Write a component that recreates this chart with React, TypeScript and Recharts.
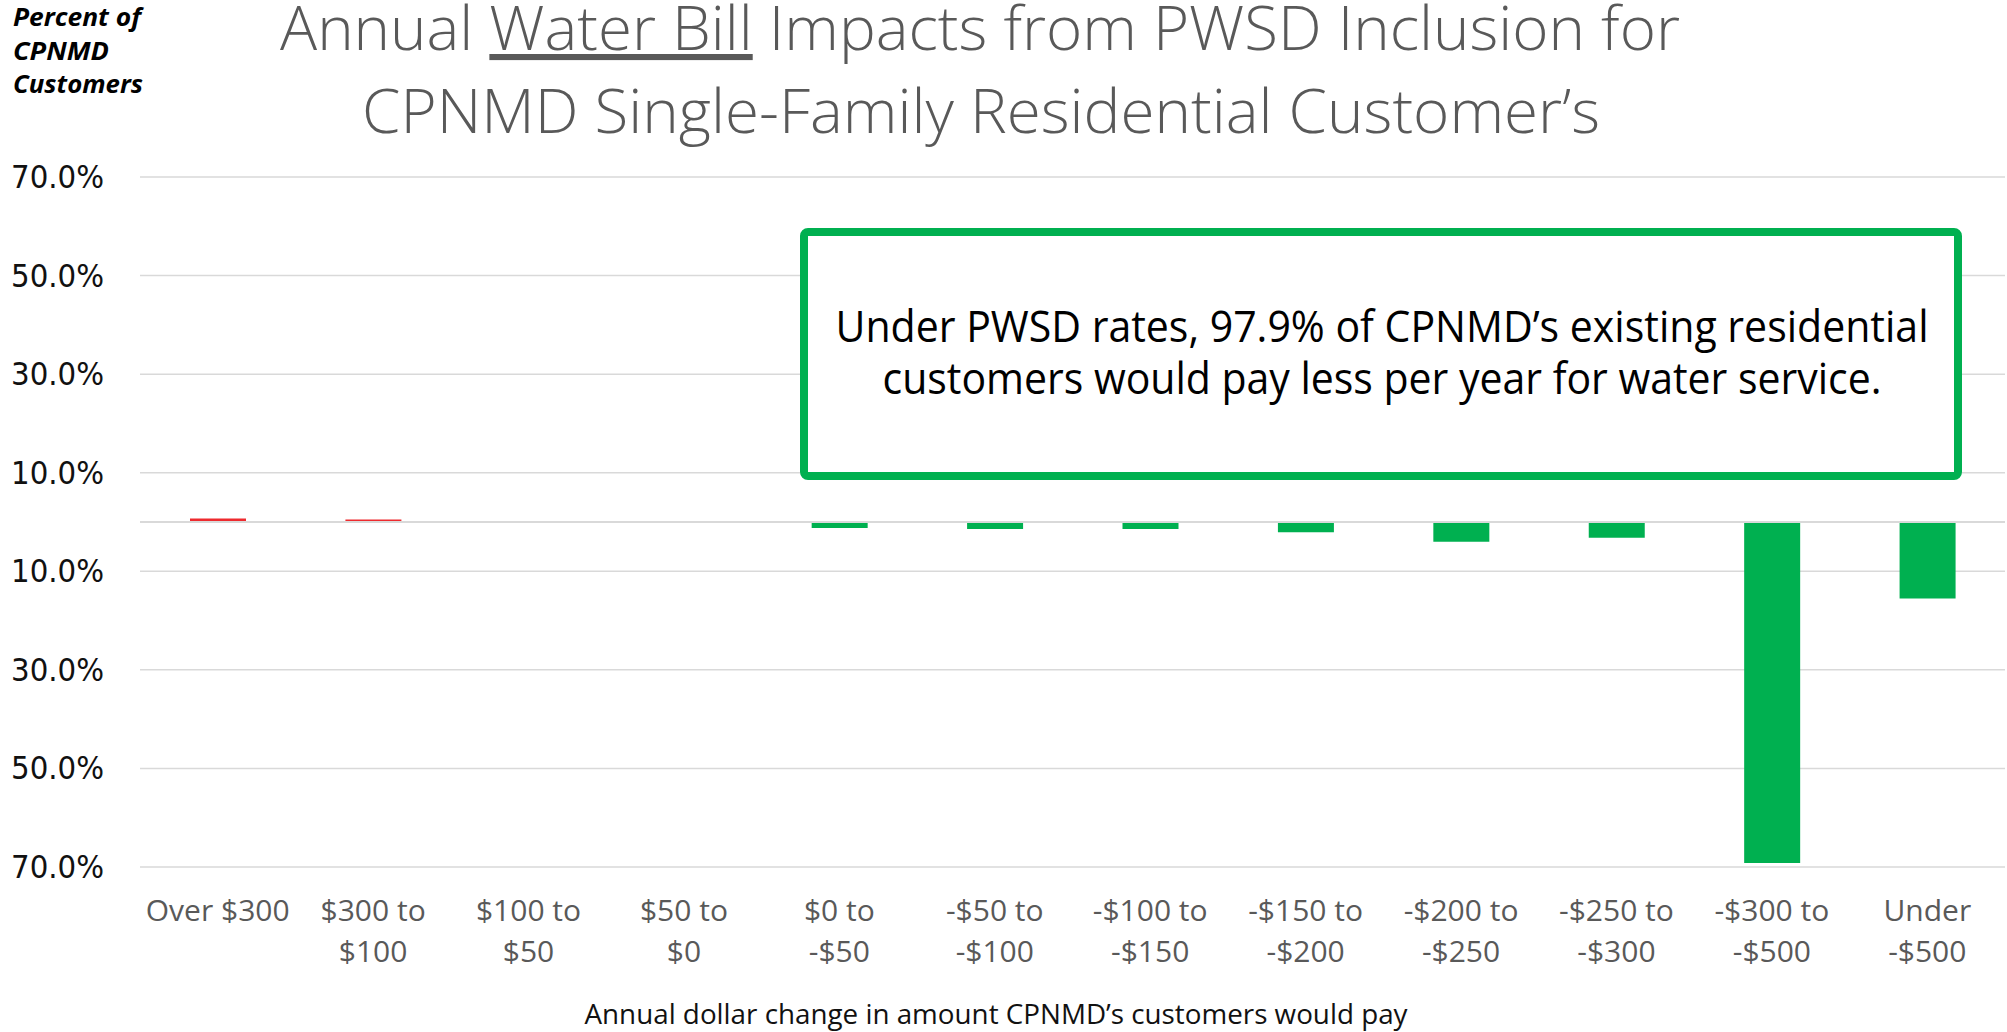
import { BarChart, Bar, XAxis, YAxis, CartesianGrid, ReferenceLine, Cell } from 'recharts';

// bill change buckets (tick labels, "\n" = line break)
const categories = [
    'Over $300',
    '$300 to\n$100',
    '$100 to\n$50',
    '$50 to\n$0',
    '$0 to\n-$50',
    '-$50 to\n-$100',
    '-$100 to\n-$150',
    '-$150 to\n-$200',
    '-$200 to\n-$250',
    '-$250 to\n-$300',
    '-$300 to\n-$500',
    'Under\n-$500',
];

// percent of CPNMD customers (positive = pay more, negative = pay less)
const shares = [0.7, 0.5, 0.0, 0.15, -1.2, -1.4, -1.4, -2.1, -4.0, -3.2, -69.2, -15.5];

const yTicks = [-70, -50, -30, -10, 10, 30, 50, 70];

const titleLines = ['Annual ', 'Water Bill', ' Impacts from PWSD Inclusion for'];
const titleLine2 = 'CPNMD Single-Family Residential Customer\u2019s';
const yTitle = ['Percent of', 'CPNMD', 'Customers'];
const xTitle = 'Annual dollar change in amount CPNMD\u2019s customers would pay';
const callout = [
    'Under PWSD rates, 97.9% of CPNMD\u2019s existing residential',
    'customers would pay less per year for water service.',
];

const RED = '#EE2A2E';
const GREEN = '#00B050';
const GRID = '#D9D9D9';
const FONT = '"Open Sans", "Noto Sans", sans-serif';

const data = categories.map((label, i) => ({ label, value: shares[i] }));

const XTick = ({ x, y, payload }: any) => {
    const lines = String(payload.value).split('\n');
    return (
        <text x={x} y={y} textAnchor="middle" fill="#595959" fontSize={30} fontFamily={FONT}>
            {lines.map((line, i) => (
                <tspan key={i} x={x} y={y + 52 + i * 41}>
                    {line}
                </tspan>
            ))}
        </text>
    );
};

const YTick = ({ y, payload }: any) => (
    <text
        x={11}
        y={y}
        dominantBaseline="central"
        fill="#111"
        fontSize={32}
        fontFamily='"DejaVu Sans", sans-serif'
        textLength={93}
        lengthAdjust="spacingAndGlyphs"
    >
        {Math.abs(payload.value).toFixed(1) + '%'}
    </text>
);

export default function App() {
    return (
        <div style={{ position: 'absolute', left: 0, top: 0, width: 2007, height: 1032, background: '#fff' }}>
            <BarChart
                width={2007}
                height={1032}
                data={data}
                margin={{ top: 177, right: 2, bottom: 0, left: 0 }}
            >
                <CartesianGrid vertical={false} stroke={GRID} strokeWidth={1.5} />
                <YAxis
                    type="number"
                    domain={[-70, 70]}
                    ticks={yTicks}
                    width={140}
                    axisLine={false}
                    tickLine={false}
                    tick={<YTick />}
                />
                <XAxis
                    dataKey="label"
                    interval={0}
                    height={165}
                    axisLine={false}
                    tickLine={false}
                    tickSize={0}
                    tick={<XTick />}
                />
                <ReferenceLine y={0} stroke={GRID} strokeWidth={2} />
                <Bar dataKey="value" barSize={56} isAnimationActive={false}>
                    {data.map((d, i) => (
                        <Cell key={`cell-${i}`} fill={d.value >= 0 ? RED : GREEN} />
                    ))}
                </Bar>
            </BarChart>

            {/* titles and callout */}
            <svg width={2007} height={1032} style={{ position: 'absolute', left: 0, top: 0, pointerEvents: 'none' }}>
                <text
                    x={980}
                    y={50}
                    textAnchor="middle"
                    fill="#595959"
                    fontSize={61}
                    fontWeight={300}
                    fontFamily={FONT}
                    textLength={1400}
                    lengthAdjust="spacingAndGlyphs"
                >
                    <tspan>{titleLines[0]}</tspan>
                    <tspan style={{ textDecoration: 'underline' }}>{titleLines[1]}</tspan>
                    <tspan>{titleLines[2]}</tspan>
                </text>
                <text
                    x={981}
                    y={133}
                    textAnchor="middle"
                    fill="#595959"
                    fontSize={61}
                    fontWeight={300}
                    fontFamily={FONT}
                    textLength={1238}
                    lengthAdjust="spacingAndGlyphs"
                >
                    {titleLine2}
                </text>

                {yTitle.map((t, i) => (
                    <text
                        key={i}
                        x={13}
                        y={26 + i * 33.5}
                        fill="#000"
                        fontSize={25}
                        fontWeight={700}
                        fontStyle="italic"
                        fontFamily={FONT}
                        textLength={[128, 96, 130][i]}
                        lengthAdjust="spacingAndGlyphs"
                    >
                        {t}
                    </text>
                ))}

                <text
                    x={996}
                    y={1024}
                    textAnchor="middle"
                    fill="#111"
                    fontSize={28}
                    fontFamily={FONT}
                    textLength={823}
                    lengthAdjust="spacingAndGlyphs"
                >
                    {xTitle}
                </text>

                <rect x={804} y={232} width={1154} height={244} rx={4} fill="#fff" stroke={GREEN} strokeWidth={8} />
                {callout.map((t, i) => (
                    <text
                        key={i}
                        x={1382}
                        y={342 + i * 52}
                        textAnchor="middle"
                        fill="#000"
                        fontSize={44}
                        fontFamily={FONT}
                        textLength={[1093, 999][i]}
                        lengthAdjust="spacingAndGlyphs"
                    >
                        {t}
                    </text>
                ))}
            </svg>
        </div>
    );
}
